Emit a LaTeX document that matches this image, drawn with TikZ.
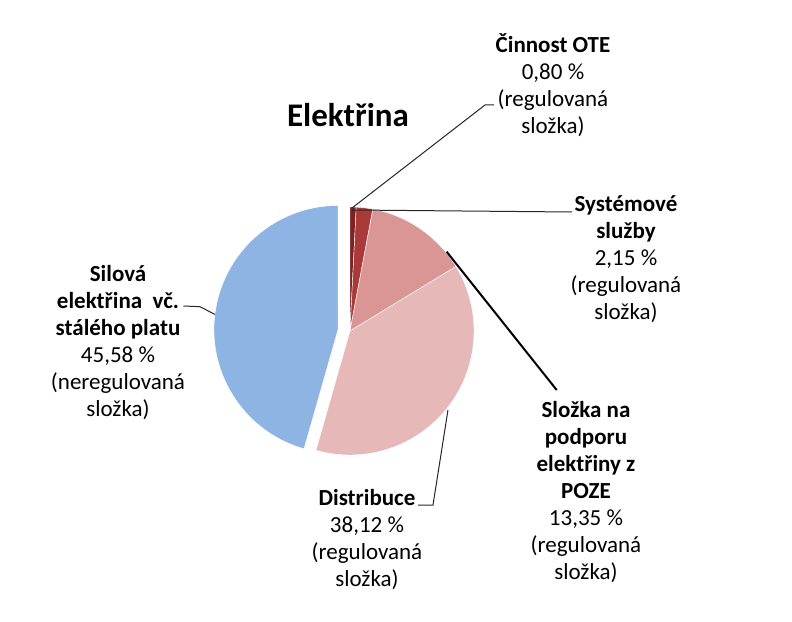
\documentclass[tikz,border=0pt]{standalone}
\usepackage{fontspec}
\setmainfont{Carlito}
\usepackage{tikz}
\usepackage{xcolor}
\definecolor{eldarkred}{RGB}{125,33,33}
\definecolor{elred}{RGB}{170,58,58}
\definecolor{elpink}{RGB}{217,150,148}
\definecolor{ellightpink}{RGB}{230,184,183}
\definecolor{elblue}{RGB}{141,180,226}
\tikzstyle{slice} = [draw=white, line width=0.4pt]
\tikzstyle{share} = [align=center, inner sep=0pt, font=\fontsize{23}{27}\selectfont]
\tikzstyle{leader} = [line width=1pt, color=black!85]
\tikzstyle{leaderthick} = [line width=2pt, color=black]

\begin{document}
\begin{tikzpicture}[x=1pt, y=1pt]
\useasboundingbox (-350,-290) rectangle (442,331);
% pie, starting at the top, clockwise
\coordinate (c) at (0,0);
\coordinate (b) at (-12,1.5);
\filldraw[slice, fill=eldarkred] (c) -- (90:124pt) arc[start angle=90, end angle=87.12, radius=124pt] -- cycle;
\filldraw[slice, fill=elred] (c) -- (87.12:124pt) arc[start angle=87.12, end angle=79.38, radius=124pt] -- cycle;
\filldraw[slice, fill=elpink] (c) -- (79.38:124pt) arc[start angle=79.38, end angle=31.32, radius=124pt] -- cycle;
\filldraw[slice, fill=ellightpink] (c) -- (31.32:124pt) arc[start angle=31.32, end angle=-105.9, radius=124pt] -- cycle;
\filldraw[slice, fill=elblue] (b) -- ++(-105.9:124pt) arc[start angle=-105.9, end angle=-270, radius=124pt] -- cycle;

\node (title) [anchor=base, font=\fontsize{33}{38}\selectfont\bfseries] at (-2,204) {Elektřina};

\node (ote) [share] at (203,246) {\textbf{Činnost OTE}\\0,80 \%\\(regulovaná\\složka)};
\node (sys) [share] at (276,72) {\textbf{Systémové}\\\textbf{služby}\\2,15 \%\\(regulovaná\\složka)};
\node (poze) [share] at (236,-161) {\textbf{Složka na}\\\textbf{podporu}\\\textbf{elektřiny z}\\\textbf{POZE}\\13,35 \%\\(regulovaná\\složka)};
\node (dist) [share] at (17,-208.5) {\textbf{Distribuce}\\38,12 \%\\(regulovaná\\složka)};
\node (silova) [share] at (-232,-11.7) {\textbf{Silová}\\\textbf{elektřina\ \ vč.}\\\textbf{stálého platu}\\45,58 \%\\(neregulovaná\\složka)};

% leader lines
\coordinate (ote-pt) at (2,123);
\coordinate (ote-knee) at (135,226);
\coordinate (sys-pt) at (2,121);
\coordinate (sys-end) at (222,119);
\coordinate (poze-pt) at (39.4:125pt);
\coordinate (poze-end) at (206.7,-59);
\coordinate (dist-pt) at (-38.9:125.9pt);
\coordinate (dist-knee) at (83,-174);
\coordinate (sil-pt) at (-135.1,16.6);
\coordinate (sil-knee) at (-150,24.3);

\draw[leader] (ote-pt) -- (ote-knee) -- ++(9,0);
\draw[leader] (sys-pt) -- (sys-end);
\draw[leaderthick] (poze-pt) -- (poze-end);
\draw[leader] (dist-pt) -- (dist-knee) -- ++(-15,0);
\draw[leader] (sil-pt) -- (sil-knee) -- ++(-16.7,0.7);
\end{tikzpicture}
\end{document}
